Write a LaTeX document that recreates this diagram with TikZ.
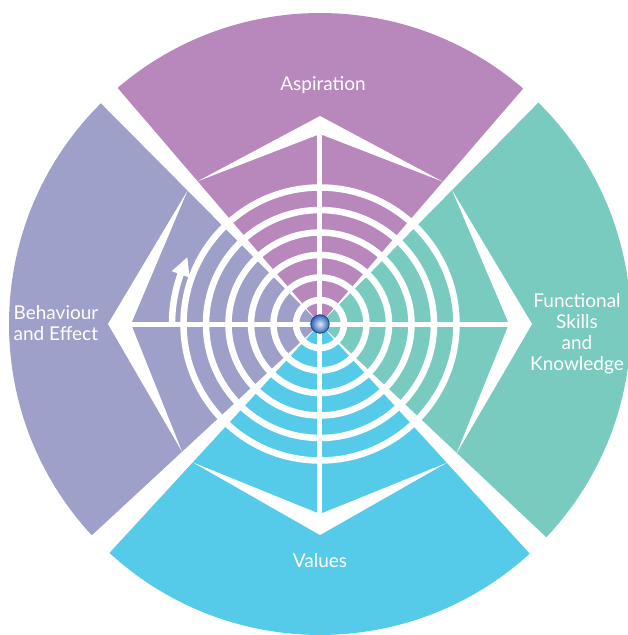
\documentclass[tikz,border=0pt]{standalone}
\usepackage{fontspec}
\setmainfont{Lato}
\definecolor{aspire}{RGB}{184,136,188}
\definecolor{skills}{RGB}{122,203,191}
\definecolor{valuescol}{RGB}{86,203,233}
\definecolor{behave}{RGB}{159,160,201}
\definecolor{orb}{RGB}{38,96,178}
\definecolor{orblight}{RGB}{225,234,250}
\begin{document}
\begin{tikzpicture}[x=1pt,y=1pt,
  ring/.style={draw=white,line width=6.5pt},
  spoke/.style={draw=white,line width=5pt},
  chevron/.style={fill=white},
  sectortext/.style={text=white,font=\fontsize{19}{21}\selectfont,align=center,inner sep=0pt}]
\useasboundingbox (-320,-311) rectangle (308,324);
\clip (-320,-311) rectangle (308,324);
\def\R{311}
% four coloured sectors, separated by narrow wedge-shaped gaps
\fill[skills]    (0,0) -- (-43.3:\R) arc[start angle=-43.3,end angle=45.4,radius=\R] -- cycle;
\fill[aspire]    (0,0) -- (49.2:\R)  arc[start angle=49.2,end angle=130.6,radius=\R] -- cycle;
\fill[behave]    (0,0) -- (134.8:\R) arc[start angle=134.8,end angle=222.8,radius=\R] -- cycle;
\fill[valuescol] (0,0) -- (227.4:\R) arc[start angle=227.4,end angle=312.4,radius=\R] -- cycle;
% concentric rings of the web
\foreach \r in {24,46.5,69,91.5,114,136.5}
  \path[ring] (0,0) circle (\r);
% horizontal and vertical spokes
\path[spoke] (0,0) -- (0:190);
\path[spoke] (0,0) -- (90:190);
\path[spoke] (0,0) -- (180:190);
\path[spoke] (0,0) -- (270:190);
% tapered chevrons bounding the web in each sector
\path[chevron] (-43.3:188) -- (0:212) -- (45.4:188) -- (0:189) -- cycle;
\path[chevron] (49.2:188) -- (90:208) -- (130.6:188) -- (90:190) -- cycle;
\path[chevron] (134.8:188) -- (180:212) -- (222.8:188) -- (180:189) -- cycle;
\path[chevron] (227.4:188) -- (270:211) -- (312.4:188) -- (270:190) -- cycle;
% curved arrow in the left sector: shaft along an arc, then a triangular head
\draw[white,line width=6.5pt] (180:148) arc[start angle=180,end angle=159.5,radius=148];
\fill[white] (160.4:138.5) -- (153.3:148.5) -- (160.4:157.5) -- cycle;
% hub
\shade[inner color=orblight,outer color=orb] (0,0) circle (9.5);
\draw[orb!80!black,line width=0.8pt] (0,0) circle (9.2);
\node[circle,minimum size=19pt,inner sep=0pt] (hub) at (0,0) {};
% sector captions
\node[sectortext] (aspiration) at (3,239) {Aspiration};
\node[sectortext] (values) at (0,-237) {Values};
\node[sectortext,align=left] (behaviour) at (-264,1) {Behaviour\\and Effect};
\node[sectortext] (functional) at (257,-10) {Functional\\Skills\\and\\Knowledge};
\end{tikzpicture}
\end{document}
